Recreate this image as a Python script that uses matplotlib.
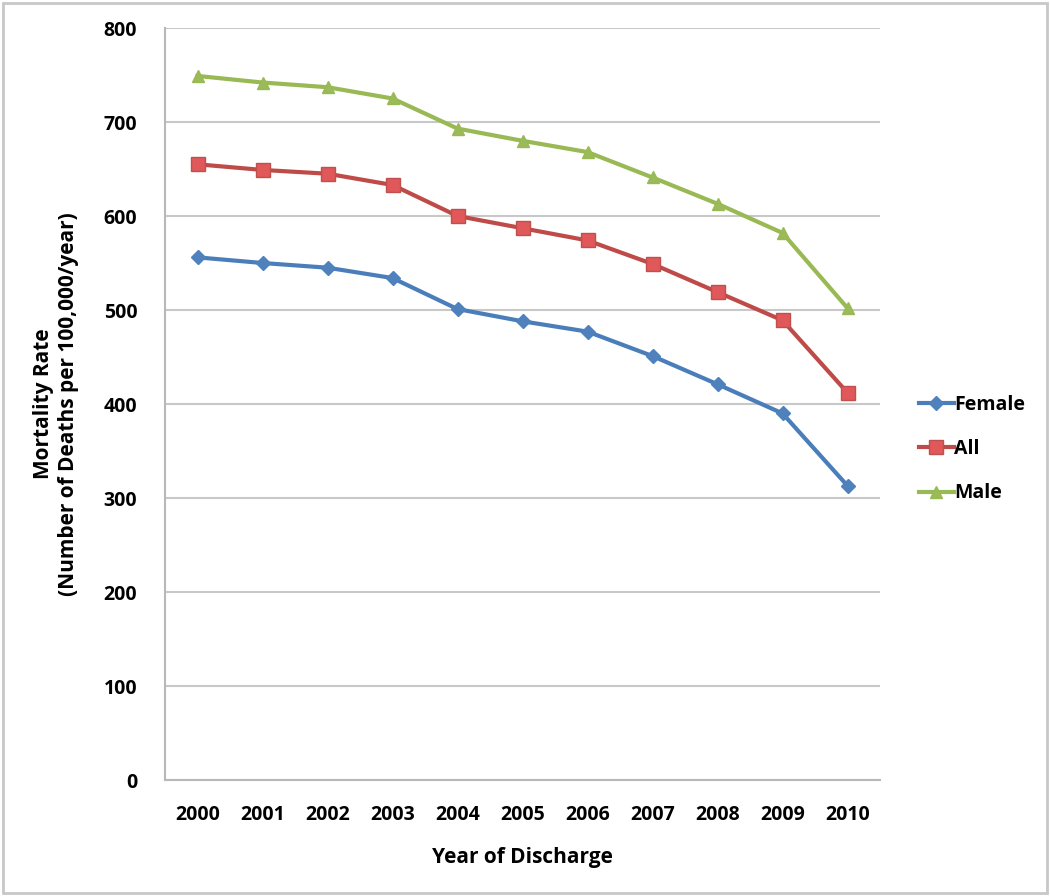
import matplotlib
matplotlib.use("Agg")
import matplotlib.pyplot as plt
from matplotlib.patches import Rectangle

years = ["2000", "2001", "2002", "2003", "2004", "2005", "2006", "2007", "2008", "2009", "2010"]
female = [556, 550, 545, 534, 501, 488, 477, 451, 421, 390, 313]
all_ = [655, 649, 645, 633, 600, 587, 574, 549, 519, 489, 412]
male = [749, 742, 737, 725, 693, 680, 668, 641, 613, 582, 502]
yticks = [0, 100, 200, 300, 400, 500, 600, 700, 800]

plt.rcParams['font.family'] = ['Open Sans', 'DejaVu Sans']

fig = plt.figure(figsize=(10.5, 8.96), dpi=100)
ax = fig.add_axes([165/1050, 1-780/896, (880-165)/1050, (780-28)/896])

x = list(range(len(years)))
ax.plot(x, female, color='#4a7ebb', lw=3, marker='D', ms=7, mfc='#4f81bd', mec='#4f81bd', label='Female')
ax.plot(x, all_, color='#be4b48', lw=3, marker='s', ms=10, mfc='#e0585a', mec='#c0504d', label='All')
ax.plot(x, male, color='#98b954', lw=3, marker='^', ms=9, mfc='#9bbb59', mec='#98b954', label='Male')

ax.set_xlim(-0.5, len(years) - 0.5)
ax.set_ylim(0, 800)
ax.set_yticks(yticks)
ax.set_xticks(x)
ax.set_xticklabels(years)
ax.yaxis.grid(True, color='#c8c8c8', lw=1.5)
ax.set_axisbelow(True)
for s in ['top', 'right']:
    ax.spines[s].set_visible(False)
for s in ['left', 'bottom']:
    ax.spines[s].set_color('#b8b8b8')
    ax.spines[s].set_linewidth(1.5)
ax.tick_params(axis='x', length=0, labelsize=14, pad=18)
ax.tick_params(axis='y', length=0, labelsize=14, pad=20)
for lab in ax.get_xticklabels() + ax.get_yticklabels():
    lab.set_fontweight('bold')
ax.set_xlabel('Year of Discharge', fontsize=15, fontweight='bold', labelpad=16)
ax.set_ylabel('Mortality Rate\n(Number of Deaths per 100,000/year)', fontsize=15, fontweight='bold', labelpad=18)

leg = ax.legend(loc='center left', bbox_to_anchor=(1.03, 0.44), frameon=False,
                prop={'weight': 'bold', 'size': 14}, handlelength=1.8,
                labelspacing=1.25, handletextpad=0.0)

fig.patches.append(Rectangle((0.003, 0.003), 0.994, 0.994, transform=fig.transFigure,
                             fill=False, edgecolor='#c8c8c8', lw=2))

fig.savefig('out.png', dpi=100)
